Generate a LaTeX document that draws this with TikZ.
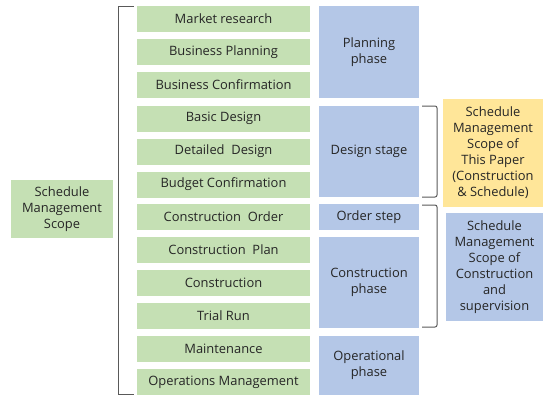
\documentclass[tikz,border=0pt]{standalone}
\usepackage{fontspec}
\setmainfont{Open Sans}
\definecolor{gfill}{HTML}{C5E0B4}
\definecolor{bfill}{HTML}{B4C7E7}
\definecolor{yfill}{HTML}{FFE699}
\definecolor{txt}{HTML}{262626}
\definecolor{brk}{HTML}{595959}
\begin{document}
\begin{tikzpicture}[x=1bp,y=-1bp,
  base/.style={inner sep=0pt, align=center, text=txt, font=\fontsize{12.9bp}{16bp}\selectfont},
  gbox/.style={base, fill=gfill, minimum width=173bp, minimum height=26bp},
  bbox/.style={base, fill=bfill, minimum width=100bp},
  ybox/.style={base, fill=yfill},
  brack/.style={draw=brk, line width=1pt, rounded corners=2bp}]
\useasboundingbox (0,0) rectangle (543,395);
% green step boxes
\node[gbox] (g1) at (223.5,19) {Market research};
\node[gbox] (g2) at (223.5,52) {Business Planning};
\node[gbox] (g3) at (223.5,85) {Business Confirmation};
\node[gbox] (g4) at (223.5,118.5) {Basic Design};
\node[gbox] (g5) at (223.5,151.5) {Detailed\ \ Design};
\node[gbox] (g6) at (223.5,184.5) {Budget Confirmation};
\node[gbox] (g7) at (223.5,217) {Construction\ \ Order};
\node[gbox] (g8) at (223.5,250) {Construction\ \ Plan};
\node[gbox] (g9) at (223.5,283) {Construction};
\node[gbox] (g10) at (223.5,316) {Trial Run};
\node[gbox] (g11) at (223.5,349) {Maintenance};
\node[gbox] (g12) at (223.5,382) {Operations Management};
% phase boxes
\node[bbox, minimum height=92bp] (p1) at (369,52) {Planning\\phase};
\node[bbox, minimum height=91bp] (p2) at (369,151.5) {Design stage};
\node[bbox, minimum height=26bp] (p3) at (369,217) {Order step};
\node[bbox, minimum height=91bp] (p4) at (369,282.5) {Construction\\phase};
\node[bbox, minimum height=59bp] (p5) at (369,365.5) {Operational\\phase};
% left scope
\node[gbox, minimum width=102bp, minimum height=58bp] (s) at (62,209) {Schedule\\Management\\Scope};
% right scopes
\node[ybox, minimum width=100bp, minimum height=108bp] (y) at (493,153) {Schedule\\Management\\Scope of\\This Paper\\(Construction\\\& Schedule)};
\node[bbox, minimum width=97bp, minimum height=108bp] (r) at (494.5,267) {Schedule\\Management\\Scope\ of\\Construction\\and\\supervision};
% brackets
\coordinate (lt) at (134,6);
\coordinate (lb) at (134,394);
\draw[brack, rounded corners=0pt] (lt) -- (118,6) -- (118,394) -- (lb);
\coordinate (a1) at (422,106);
\coordinate (a2) at (422,197);
\draw[brack] (a1) -- (437,106) -- (437,197) -- (a2);
\coordinate (b1) at (422,205);
\coordinate (b2) at (422,327);
\draw[brack] (b1) -- (437,205) -- (437,327) -- (b2);
\end{tikzpicture}
\end{document}
